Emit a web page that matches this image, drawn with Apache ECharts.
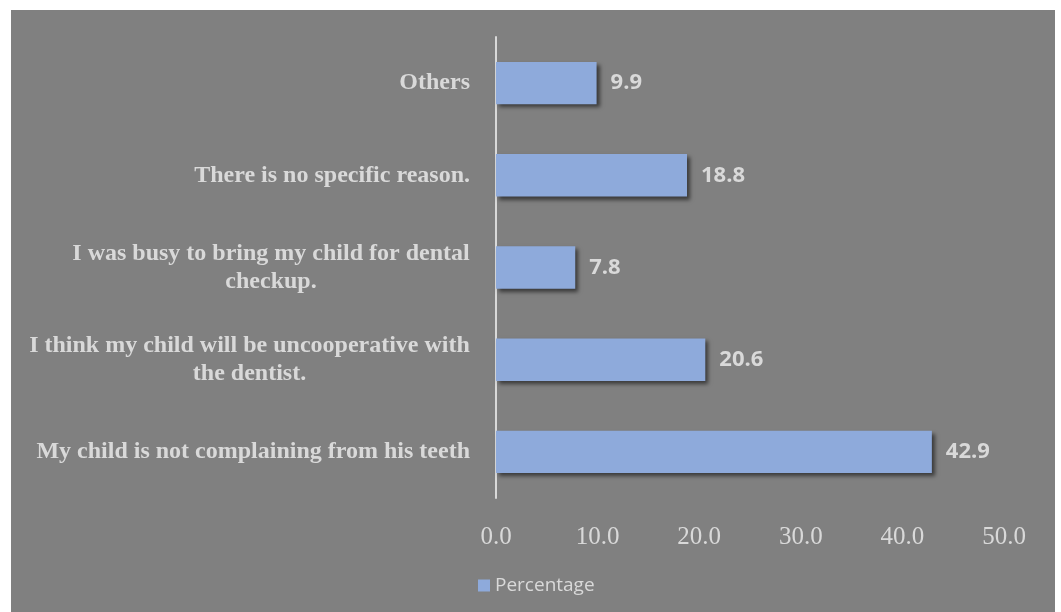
<!DOCTYPE html>
<html>
<head>
<meta charset="utf-8">
<script src="https://cdn.jsdelivr.net/npm/echarts@6/dist/echarts.min.js"></script>
<style>
html,body{margin:0;padding:0;background:#ffffff;}
#chart{position:absolute;left:11px;top:10px;width:1044px;height:602px;background:#808080;}
</style>
</head>
<body>
<div id="chart"></div>
<script>
const categories = [
  "My child is not complaining from his teeth",
  "I think my child will be uncooperative with\nthe dentist.",
  "I was busy to bring my child for dental\ncheckup.",
  "There is no specific reason.",
  "Others"
];
const percentages = [42.9, 20.6, 7.8, 18.8, 9.9];
const tickLabels = ["0.0", "10.0", "20.0", "30.0", "40.0", "50.0"];
const seriesName = "Percentage";

const chart = echarts.init(document.getElementById('chart'));
const labelColor = '#d9d9d9';
const serif = '"Liberation Serif","Times New Roman",serif';
const sans = '"Open Sans","Liberation Sans",sans-serif';
const catFontSize = 24;

// build per-label rich styles so wrapped lines are centred under the first line
const ctx = document.createElement('canvas').getContext('2d');
ctx.font = 'bold ' + catFontSize + 'px ' + serif;
const rich = {};
categories.forEach((c, i) => {
  if (c.indexOf('\n') >= 0) {
    const w = Math.max.apply(null, c.split('\n').map(s => ctx.measureText(s).width));
    rich['c' + i] = { width: Math.ceil(w), align: 'center', color: labelColor, fontSize: catFontSize,
      fontFamily: serif, fontWeight: 'bold', lineHeight: 28 };
  }
});

chart.setOption({
  animation: false,
  backgroundColor: '#808080',
  grid: { left: 485, right: 51, top: 27, bottom: 114, containLabel: false },
  legend: {
    data: [seriesName],
    left: 462, top: 561,
    itemWidth: 12, itemHeight: 12, itemGap: 5,
    icon: 'rect',
    textStyle: { color: labelColor, fontSize: 19, fontFamily: sans }
  },
  xAxis: {
    type: 'value', min: 0, max: 50, interval: 10,
    axisLine: { show: false },
    axisTick: { show: false },
    splitLine: { show: false },
    axisLabel: {
      color: labelColor, fontSize: 25, fontFamily: serif, margin: 27,
      formatter: v => tickLabels[Math.round(v / 10)]
    }
  },
  yAxis: {
    type: 'category', data: categories,
    axisLine: { show: true, lineStyle: { color: '#d9d9d9', width: 2 } },
    axisTick: { show: false },
    axisLabel: {
      color: labelColor, fontSize: catFontSize, fontFamily: serif, fontWeight: 'bold', margin: 26,
      lineHeight: 28,
      formatter: function (v, idx) {
        if (v.indexOf('\n') < 0) return v;
        return v.split('\n').map(s => '{c' + idx + '|' + s + '}').join('\n');
      },
      rich: rich
    }
  },
  series: [{
    name: seriesName,
    type: 'bar',
    data: percentages,
    barWidth: '46%',
    itemStyle: {
      color: '#8eaadb',
      shadowColor: 'rgba(0,0,0,0.55)', shadowBlur: 4, shadowOffsetX: 3, shadowOffsetY: 3
    },
    label: {
      show: true, position: 'right', distance: 14,
      color: labelColor, fontSize: 22, fontWeight: 'bold', fontFamily: sans,
      formatter: p => p.value.toFixed(1)
    }
  }]
});
</script>
</body>
</html>
